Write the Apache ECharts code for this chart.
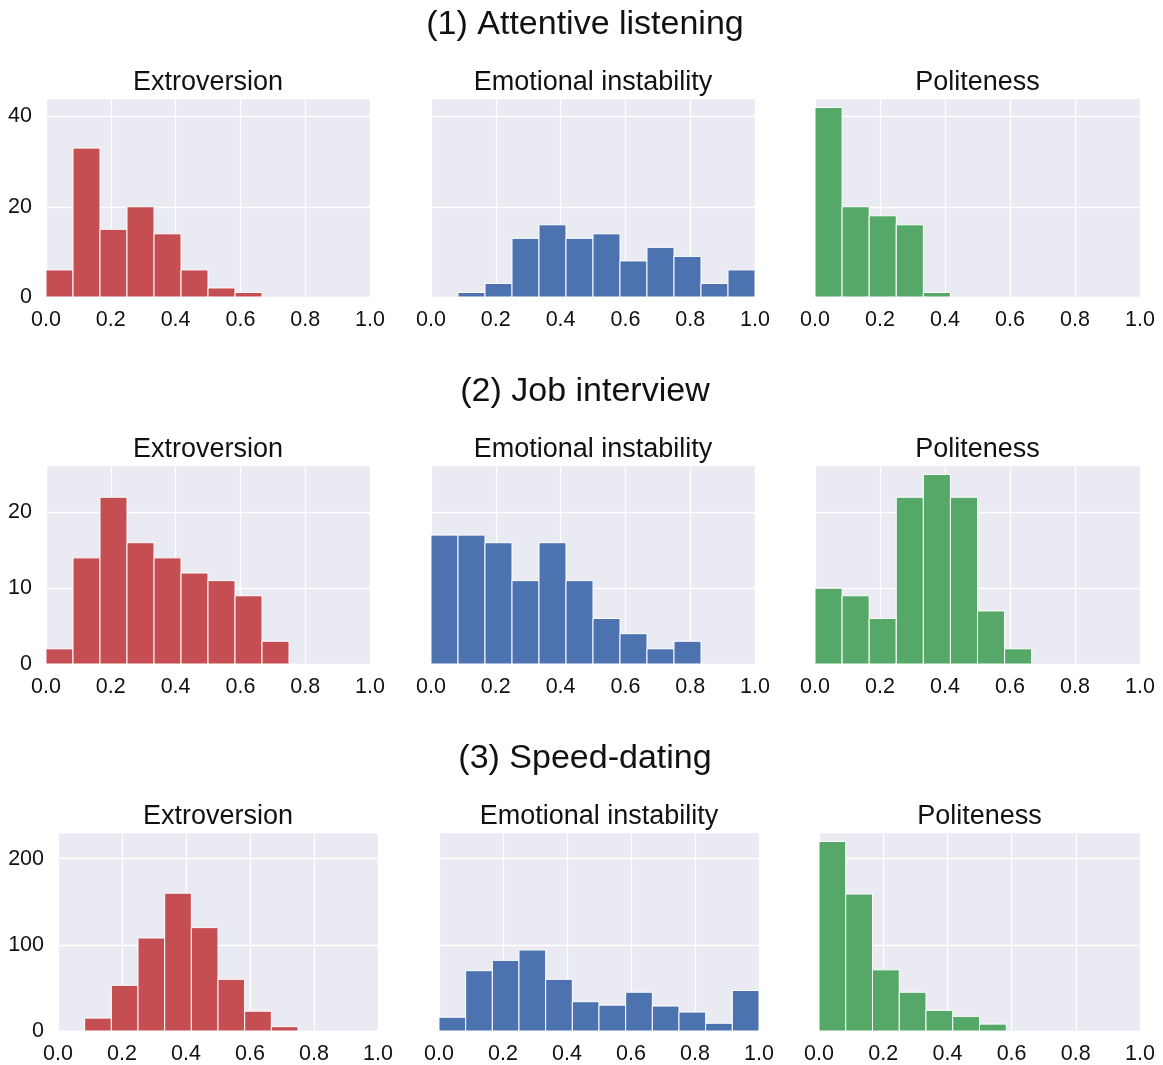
<!DOCTYPE html>
<html>
<head>
<meta charset="utf-8">
<title>Personality histograms</title>
<script src="https://cdn.jsdelivr.net/npm/echarts@6/dist/echarts.min.js"></script>
<style>
  html, body { margin: 0; padding: 0; background: #fff; }
  #chart { width: 1163px; height: 1065px; }
</style>
</head>
<body>
<div id="chart"></div>
<script>
const rowTitles = ["(1) Attentive listening", "(2) Job interview", "(3) Speed-dating"];
const traitTitles = ["Extroversion", "Emotional instability", "Politeness"];
const binCount = 12;
const yIntervals = [20, 10, 100];

// counts per bin, 12 equal bins over [0, 1]
const listeningExtroversion = [6, 33, 15, 20, 14, 6, 2, 1, 0, 0, 0, 0];
const listeningInstability = [0, 1, 3, 13, 16, 13, 14, 8, 11, 9, 3, 6];
const listeningPoliteness = [42, 20, 18, 16, 1, 0, 0, 0, 0, 0, 0, 0];

const interviewExtroversion = [2, 14, 22, 16, 14, 12, 11, 9, 3, 0, 0, 0];
const interviewInstability = [17, 17, 16, 11, 16, 11, 6, 4, 2, 3, 0, 0];
const interviewPoliteness = [10, 9, 6, 22, 25, 22, 7, 2, 0, 0, 0, 0];

const datingExtroversion = [0, 15, 53, 108, 160, 120, 60, 23, 5, 0, 0, 0];
const datingInstability = [16, 70, 82, 94, 60, 34, 30, 45, 29, 22, 9, 47];
const datingPoliteness = [220, 159, 71, 45, 24, 17, 8, 0, 0, 0, 0, 0];

const counts = [
  [listeningExtroversion, listeningInstability, listeningPoliteness],
  [interviewExtroversion, interviewInstability, interviewPoliteness],
  [datingExtroversion, datingInstability, datingPoliteness]
];
const colors = ["#c44e52", "#4c72b0", "#55a868"];

// plot boxes [left, right] per row/column, and top per row
const plotX = [
  [[46, 370], [431, 755], [815, 1140]],
  [[46, 370], [431, 755], [815, 1140]],
  [[58, 378], [439, 759], [819, 1140]]
];
const plotTop = [98, 465, 832];
const plotHeight = 199;
const rowTitleTop = [8, 375, 742];

function renderBar(params, api) {
  let n = api.value(2);
  if (!n) return null;
  let p0 = api.coord([api.value(0), n]);
  let p1 = api.coord([api.value(1), 0]);
  return {
    type: "rect",
    shape: { x: p0[0], y: p0[1], width: p1[0] - p0[0], height: p1[1] - p0[1] },
    style: { fill: api.visual("color"), stroke: "#fff", lineWidth: 1 }
  };
}

let titles = [], grids = [], xAxes = [], yAxes = [], series = [];
let textColor = "#111";
let font = "'Liberation Sans', Arial, sans-serif";

for (let r = 0; r < 3; r++) {
  titles.push({
    text: rowTitles[r],
    left: 585,
    top: rowTitleTop[r],
    padding: 0,
    textAlign: "center",
    textStyle: { fontSize: 34, fontWeight: "normal", color: textColor, fontFamily: font }
  });
  let rowMax = 0;
  counts[r].forEach(c => { rowMax = Math.max(rowMax, Math.max.apply(null, c)); });
  for (let c = 0; c < 3; c++) {
    let idx = grids.length;
    let left = plotX[r][c][0], right = plotX[r][c][1];
    titles.push({
      text: traitTitles[c],
      left: (left + right) / 2,
      top: plotTop[r] - 29,
      padding: 0,
      textAlign: "center",
      textStyle: { fontSize: 27, fontWeight: "normal", color: textColor, fontFamily: font }
    });
    grids.push({
      left: left,
      top: plotTop[r],
      width: right - left,
      height: plotHeight,
      show: true,
      backgroundColor: "#eaeaf2",
      borderWidth: 0
    });
    xAxes.push({
      type: "value",
      gridIndex: idx,
      min: 0,
      max: 1,
      interval: 0.2,
      axisLine: { show: false },
      axisTick: { show: false },
      axisLabel: {
        color: textColor,
        fontSize: 21.5,
        fontFamily: font,
        margin: 12,
        formatter: v => v.toFixed(1)
      },
      splitLine: { show: true, lineStyle: { color: "#fff", width: 1.3 } }
    });
    yAxes.push({
      type: "value",
      gridIndex: idx,
      min: 0,
      max: rowMax * 1.05,
      interval: yIntervals[r],
      axisLine: { show: false },
      axisTick: { show: false },
      axisLabel: {
        show: c == 0,
        showMaxLabel: false,
        color: textColor,
        fontSize: 21.5,
        fontFamily: font,
        margin: 14
      },
      splitLine: { show: true, lineStyle: { color: "#fff", width: 1.3 } }
    });
    let bins = [];
    for (let i = 0; i < binCount; i++) {
      bins.push([i / binCount, (i + 1) / binCount, counts[r][c][i]]);
    }
    series.push({
      type: "custom",
      xAxisIndex: idx,
      yAxisIndex: idx,
      renderItem: renderBar,
      encode: { x: [0, 1], y: 2 },
      itemStyle: { color: colors[c] },
      data: bins,
      silent: true
    });
  }
}

let option = {
  backgroundColor: "#fff",
  animation: false,
  title: titles,
  grid: grids,
  xAxis: xAxes,
  yAxis: yAxes,
  series: series
};
let chart = echarts.init(document.getElementById("chart"));
chart.setOption(option);
</script>
</body>
</html>
